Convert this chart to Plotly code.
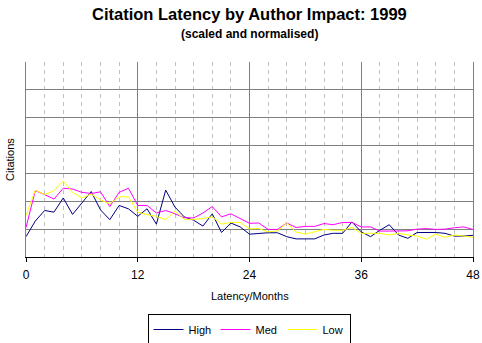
import plotly.graph_objects as go

months = list(range(49))

high = [0.73, 1.29, 1.67, 1.61, 2.12, 1.53, 1.94, 2.35, 1.69, 1.34, 1.85, 1.73, 1.46,
        1.73, 1.18, 2.40, 1.79, 1.44, 1.32, 1.11, 1.55, 0.88, 1.22, 1.08, 0.82,
        0.85, 0.87, 0.87, 0.73, 0.65, 0.65, 0.65, 0.79, 0.85, 0.85, 1.26, 0.90,
        0.73, 0.96, 1.16, 0.79, 0.67, 0.88, 0.88, 0.88, 0.85, 0.75, 0.75, 0.78]

med = [1.06, 2.38, 2.24, 2.08, 2.47, 2.44, 2.32, 2.28, 2.34, 1.81, 2.32, 2.47, 1.85,
       1.85, 1.58, 1.67, 1.55, 1.41, 1.40, 1.58, 1.81, 1.44, 1.55, 1.38, 1.21,
       1.22, 0.99, 0.99, 1.22, 1.06, 1.10, 1.10, 1.20, 1.16, 1.24, 1.24, 1.08,
       1.08, 0.93, 0.93, 0.93, 0.94, 1.00, 1.02, 0.99, 1.00, 1.05, 1.08, 0.99]

low = [1.49, 2.40, 2.24, 2.38, 2.73, 2.32, 2.12, 2.26, 2.05, 1.91, 2.16, 2.16, 1.61,
       1.52, 1.46, 1.34, 1.65, 1.35, 1.35, 1.38, 1.44, 1.18, 1.24, 1.24, 1.01,
       1.02, 0.90, 0.94, 1.22, 0.90, 0.82, 0.90, 0.99, 0.96, 0.96, 1.06, 0.85,
       0.85, 0.85, 0.79, 0.85, 0.79, 0.75, 0.64, 0.82, 0.71, 0.79, 0.75, 0.71]

series = [("High", high, "#000080"), ("Med", med, "#ff00ff"), ("Low", low, "#ffff00")]

FONT = "Arial, Liberation Sans, sans-serif"

fig = go.Figure()
for name, vals, col in series:
    fig.add_trace(go.Scatter(x=months, y=vals, mode="lines", name=name,
                             line=dict(color=col, width=1)))

ph = 343 - 62 - 86
pw = 482 - 26 - 9

def py(pix):
    return (343 - 86 - pix) / ph

def px(pix):
    return (pix - 26) / pw

fig.update_layout(
    width=482, height=343,
    margin=dict(l=26, r=9, t=62, b=86, autoexpand=False),
    paper_bgcolor="white", plot_bgcolor="white",
    font=dict(family=FONT, size=11, color="black"),
    showlegend=True,
    legend=dict(orientation="h", x=px(249), xanchor="center", y=py(314), yanchor="top",
                bordercolor="black", borderwidth=1, font=dict(size=11),
                itemwidth=30, entrywidth=22, tracegroupgap=0, traceorder="normal"),
    annotations=[
        dict(text="<b>Citation Latency by Author Impact: 1999</b>", x=0.5, y=py(14),
             xref="paper", yref="paper", showarrow=False, yanchor="middle",
             font=dict(size=16.5)),
        dict(text="<b>(scaled and normalised)</b>", x=0.5, y=py(34), xref="paper",
             yref="paper", showarrow=False, yanchor="middle", font=dict(size=12)),
        dict(text="Citations", x=px(9.5), y=py(159.5), xref="paper", yref="paper",
             showarrow=False, textangle=-90, xanchor="center", yanchor="middle",
             font=dict(size=11)),
        dict(text="Latency/Months", x=px(249.5), y=py(296), xref="paper", yref="paper",
             showarrow=False, xanchor="center", yanchor="middle", font=dict(size=11)),
    ],
)

fig.update_xaxes(range=[0, 48], dtick=12, tick0=0, showgrid=True, gridcolor="#808080",
                 gridwidth=1, showline=True, linecolor="black", linewidth=1,
                 ticks="outside", ticklen=4, tickcolor="black", automargin=False,
                 tickfont=dict(size=12), zeroline=False, ticklabelstandoff=3,
                 minor=dict(dtick=2, showgrid=True, gridcolor="#c0c0c0",
                            griddash="4px,4px", gridwidth=1))
fig.update_yaxes(range=[0, 7], dtick=1, tick0=0, showgrid=True, gridcolor="#808080",
                 gridwidth=1, showline=True, linecolor="#808080", mirror=True,
                 showticklabels=False, ticks="", zeroline=False, automargin=False)

fig.write_html("out.html")
